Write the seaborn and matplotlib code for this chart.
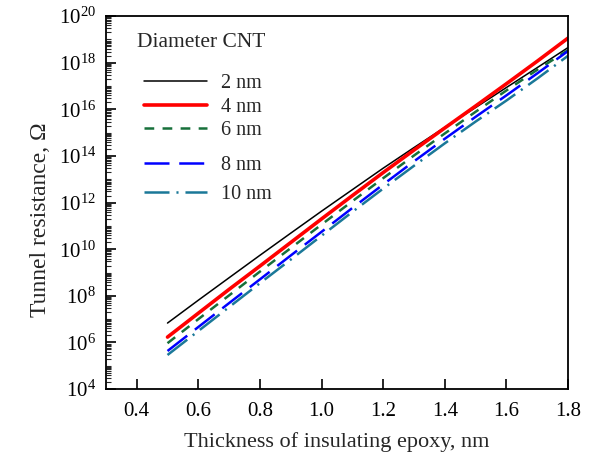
import numpy as np
import pandas as pd
import matplotlib
matplotlib.use("Agg")
import matplotlib.pyplot as plt
import matplotlib.ticker as mticker
import seaborn as sns

# ---- data ----
thickness = [0.5, 0.6, 0.7, 0.8, 0.9, 1.0, 1.1, 1.2, 1.3, 1.4, 1.5, 1.6, 1.7, 1.8]
r_2nm = [6.8e6, 6.5e7, 6.0e8, 5.5e9, 4.9e10, 4.3e11, 3.6e12, 3.0e13, 2.3e14, 1.7e15, 1.2e16, 8.7e16, 6.2e17, 4.5e18]
r_4nm = [1.7e6, 1.8e7, 1.9e8, 1.9e9, 1.95e10, 2.0e11, 2.0e12, 1.95e13, 1.8e14, 1.6e15, 1.4e16, 1.26e17, 1.17e18, 1.15e19]
r_6nm = [9.3e5, 1.0e7, 1.05e8, 1.1e9, 1.12e10, 1.15e11, 1.15e12, 1.12e13, 1.05e14, 9.3e14, 7.9e15, 6.5e16, 5.0e17, 3.5e18]
r_8nm = [4.3e5, 4.6e6, 4.9e7, 5.1e8, 5.4e9, 5.6e10, 5.9e11, 6.0e12, 5.9e13, 5.5e14, 4.8e15, 4.0e16, 3.5e17, 3.2e18]
r_10nm = [2.9e5, 3.1e6, 3.3e7, 3.5e8, 3.6e9, 3.8e10, 4.0e11, 4.0e12, 3.8e13, 3.5e14, 3.0e15, 2.4e16, 2.1e17, 2.0e18]
labels = ["2 nm", "4 nm", "6 nm", "8 nm", "10 nm"]
series = [r_2nm, r_4nm, r_6nm, r_8nm, r_10nm]
x_ticks = [0.4, 0.6, 0.8, 1.0, 1.2, 1.4, 1.6, 1.8]
y_exponents = [4, 6, 8, 10, 12, 14, 16, 18, 20]

# ---- styles ----
colors = ["#000000", "#ff0000", "#17703a", "#0000ff", "#1a7898"]
widths = [1.1, 2.6, 1.8, 1.8, 1.8]
styles = ["-", "-", (0, (7, 6)), (0, (18, 7)), (0, (18, 5, 1.5, 5))]

sns.set_theme(style="ticks")
plt.rcParams["font.family"] = ["Liberation Serif", "DejaVu Serif"]
plt.rcParams["mathtext.fontset"] = "custom"
plt.rcParams["mathtext.rm"] = "Liberation Serif"
plt.rcParams["mathtext.it"] = "Liberation Serif:italic"
plt.rcParams["lines.scale_dashes"] = False

fig, ax = plt.subplots(figsize=(6.05, 4.61), dpi=100)
fig.subplots_adjust(left=0.175, right=0.939, top=0.965, bottom=0.156)

for lab, vals, c, lw, ls in zip(labels, series, colors, widths, styles):
    df = pd.DataFrame({"t": thickness, "R": vals})
    sns.lineplot(data=df, x="t", y="R", ax=ax, color=c, linewidth=lw,
                 linestyle=ls, label=lab)

ax.set_yscale("log")
ax.set_xlim(0.3, 1.8)
ax.set_ylim(1e4, 1e20)
ax.set_xticks(x_ticks)
ax.xaxis.set_major_formatter(mticker.FormatStrFormatter("%.1f"))
ax.yaxis.set_major_locator(mticker.FixedLocator([10.0 ** e for e in y_exponents]))
ax.yaxis.set_major_formatter(mticker.FuncFormatter(lambda v, p: r"$10^{%d}$" % round(np.log10(v))))
ax.yaxis.set_minor_locator(mticker.LogLocator(base=10, subs=np.arange(1, 10), numticks=200))
ax.yaxis.set_minor_formatter(mticker.NullFormatter())

ax.tick_params(axis="both", which="major", direction="in", length=7, width=1.2,
               labelsize=15, colors="black")
ax.tick_params(axis="x", which="major", pad=9)
ax.tick_params(axis="y", which="major", pad=7)
ax.tick_params(axis="y", which="minor", direction="in", length=3.5, width=0.8)
ax.tick_params(axis="x", which="minor", bottom=False)
for s in ax.spines.values():
    s.set_linewidth(1.3)
    s.set_color("black")

ax.set_xlabel("Thickness of insulating epoxy, nm", fontsize=16, labelpad=8)
ax.set_ylabel("Tunnel resistance, Ω", fontsize=17)
ax.yaxis.set_label_coords(-0.118, 0.453)

# legend: title as text, entries in two groups (uneven spacing as in reference)
ax.text(0.067, 0.930, "Diameter CNT", transform=ax.transAxes, fontsize=15.5,
        ha="left", va="center")
handles, labs = ax.get_legend_handles_labels()
common = dict(frameon=False, fontsize=14.5, handlelength=3.1, handletextpad=0.7,
              borderaxespad=0, borderpad=0, loc="upper left")
leg1 = ax.legend(handles[:3], labs[:3], bbox_to_anchor=(0.083, 0.845),
                 labelspacing=0.22, **common)
ax.add_artist(leg1)
ax.legend(handles[3:], labs[3:], bbox_to_anchor=(0.083, 0.626),
          labelspacing=0.5, **common)

fig.savefig("out.png", dpi=100)
